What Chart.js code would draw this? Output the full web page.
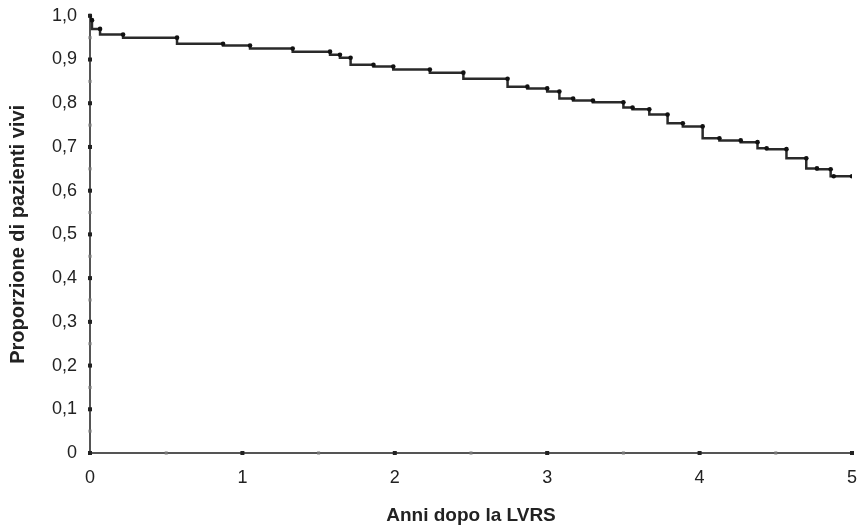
<!DOCTYPE html>
<html>
<head>
<meta charset="utf-8">
<script src="https://cdn.jsdelivr.net/npm/chart.js@4"></script>
<style>
  html, body { margin: 0; padding: 0; background: #fff; }
  #wrap { width: 863px; height: 527px; }
</style>
</head>
<body>
<div id="wrap"><canvas id="c"></canvas></div>
<script>
// Kaplan-Meier: anni dopo la LVRS vs proporzione di pazienti vivi
const years = [0, 0.013, 0.066, 0.217, 0.571, 0.873, 1.05, 1.33, 1.575, 1.64, 1.71, 1.86, 1.99, 2.23, 2.45, 2.74, 2.87, 3.0, 3.08, 3.17, 3.3, 3.5, 3.56, 3.67, 3.79, 3.89, 4.02, 4.13, 4.27, 4.38, 4.44, 4.57, 4.7, 4.77, 4.86, 4.88, 5.0];
const survival = [1.0, 0.99, 0.97, 0.957, 0.95, 0.936, 0.932, 0.925, 0.918, 0.911, 0.904, 0.888, 0.884, 0.877, 0.87, 0.856, 0.838, 0.834, 0.827, 0.811, 0.806, 0.802, 0.79, 0.786, 0.774, 0.754, 0.747, 0.72, 0.715, 0.711, 0.697, 0.695, 0.674, 0.651, 0.649, 0.633, 0.633];
const xTicks = [0, 1, 2, 3, 4, 5];
const yTicks = [0, 0.1, 0.2, 0.3, 0.4, 0.5, 0.6, 0.7, 0.8, 0.9, 1.0];

const points = years.map((t, i) => ({ x: t, y: survival[i] }));

// axis lines + dots at major and minor ticks
const axisDots = {
  id: 'axisDots',
  beforeDatasetsDraw(chart) {
    const ctx = chart.ctx;
    const xs = chart.scales.x, ys = chart.scales.y;
    const x0 = xs.getPixelForValue(0), y0 = ys.getPixelForValue(0);
    ctx.save();
    ctx.strokeStyle = '#555';
    ctx.lineWidth = 2;
    ctx.beginPath();
    ctx.moveTo(x0, ys.getPixelForValue(1.0) - 2);
    ctx.lineTo(x0, y0);
    ctx.lineTo(xs.getPixelForValue(5) + 2, y0);
    ctx.stroke();
    for (let v = 0; v <= 1.0001; v += 0.05) {
      const major = Math.abs(v * 10 - Math.round(v * 10)) < 0.01;
      ctx.fillStyle = major ? '#222' : '#777';
      const s = major ? 4 : 3;
      ctx.fillRect(x0 - s / 2, ys.getPixelForValue(v) - s / 2, s, s);
    }
    for (let v = 0; v <= 5.0001; v += 0.5) {
      const major = Math.abs(v - Math.round(v)) < 0.01;
      ctx.fillStyle = major ? '#222' : '#777';
      const s = major ? 4 : 3;
      ctx.fillRect(xs.getPixelForValue(v) - s / 2, y0 - s / 2, s, s);
    }
    ctx.restore();
  }
};

new Chart(document.getElementById('c'), {
  type: 'line',
  data: {
    datasets: [{
      label: 'Proporzione di pazienti vivi',
      data: points,
      borderColor: '#2a2a2a',
      borderWidth: 2.5,
      stepped: 'after',
      pointRadius: 2.3,
      pointBackgroundColor: '#111',
      pointBorderWidth: 0,
      fill: false
    }]
  },
  options: {
    responsive: true,
    maintainAspectRatio: false,
    animation: false,
    layout: { padding: { top: 14, right: 11, left: 0, bottom: 0 } },
    plugins: {
      legend: { display: false },
      tooltip: { enabled: false }
    },
    scales: {
      x: {
        type: 'linear',
        min: 0,
        max: 5,
        afterBuildTicks: (s) => { s.ticks = xTicks.map(v => ({ value: v })); },
        afterFit: (s) => { s.height = 74; },
        border: { display: false },
        grid: { display: false },
        ticks: {
          color: '#222',
          padding: 6,
          font: { family: 'Liberation Sans', size: 18 },
          callback: (v) => String(v)
        },
        title: {
          display: true,
          text: 'Anni dopo la LVRS',
          color: '#222',
          font: { family: 'Liberation Sans', size: 19, weight: 'bold' },
          padding: { top: 10, bottom: 0 }
        }
      },
      y: {
        min: 0,
        max: 1.0,
        afterBuildTicks: (s) => { s.ticks = yTicks.map(v => ({ value: v })); },
        afterFit: (s) => { s.width = 90; },
        border: { display: false },
        grid: { display: false },
        ticks: {
          color: '#222',
          padding: 5,
          font: { family: 'Liberation Sans', size: 18 },
          callback: (v) => v === 0 ? '0' : v.toFixed(1).replace('.', ',')
        },
        title: {
          display: true,
          text: 'Proporzione di pazienti vivi',
          color: '#222',
          font: { family: 'Liberation Sans', size: 20, weight: 'bold' },
          padding: { top: 6, bottom: 10 }
        }
      }
    }
  },
  plugins: [axisDots]
});
</script>
</body>
</html>
